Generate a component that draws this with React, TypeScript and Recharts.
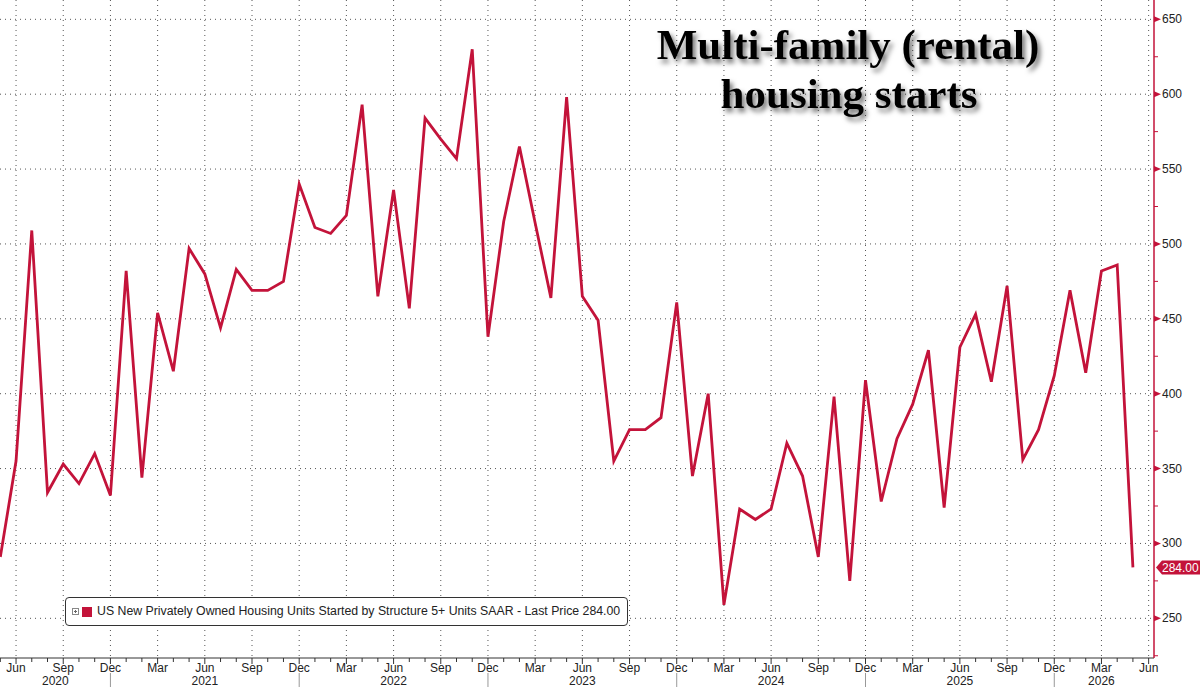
import React from 'react';
import { LineChart, Line, XAxis, YAxis, CartesianGrid, ReferenceLine } from 'recharts';

// Monthly series, May 2020 .. May 2026 (thousands of units, SAAR)
const START_MONTH = 4; // May (0-based)
const MONTH_NAMES = ['Jan', 'Feb', 'Mar', 'Apr', 'May', 'Jun', 'Jul', 'Aug', 'Sep', 'Oct', 'Nov', 'Dec'];

const housingStarts = [
  291, 355, 509, 334, 353, 340, 360, 332,
  482, 344, 454, 415, 497, 480, 444, 483, 469, 469, 475, 540,
  511, 507, 519, 593, 465, 536, 457, 584, 570, 557, 630, 438,
  515, 565, 514, 464, 598, 465, 449, 355, 376, 376, 384, 461,
  345, 400, 259, 323, 316, 323, 367, 345, 291, 398, 275, 409,
  328, 370, 393, 429, 324, 431, 453, 408, 472, 356, 376, 412,
  469, 414, 482, 486, 284,
];

const yTicks = [225, 250, 275, 300, 325, 350, 375, 400, 425, 450, 475, 500, 525, 550, 575, 600, 625, 650];
const yGridValues = [250, 300, 350, 400, 450, 500, 550, 600, 650];
const labeledMonths = ['Mar', 'Jun', 'Sep', 'Dec'];
const yearLabels = ['2020', '2021', '2022', '2023', '2024', '2025', '2026'];
const yearPositions = [3.5, 13, 25, 37, 49, 61, 70];
const lastPrice = 284;
const seriesName = 'US New Privately Owned Housing Units Started by Structure 5+ Units SAAR - Last Price 284.00';

const LINE_COLOR = '#c3133a';
const FONT = '"Liberation Sans", Arial, sans-serif';

const data = housingStarts.map((value, idx) => ({ idx, value }));
const monthTicks = Array.from({ length: housingStarts.length + 1 }, (_, i) => i);
const monthName = (i: number) => MONTH_NAMES[(START_MONTH + i) % 12];
const quarterTicks = monthTicks.filter((i) => labeledMonths.includes(monthName(i)));
const xTicks = [...monthTicks, ...yearPositions.filter((p) => !Number.isInteger(p))];

const MonthTick = (props: any) => {
  const { x, y, payload } = props;
  const v = payload.value as number;
  const yi = yearPositions.indexOf(v);
  const out: React.ReactNode[] = [];
  if (Number.isInteger(v)) {
    const name = monthName(v);
    const major = labeledMonths.includes(name);
    out.push(<line key="t" x1={x} x2={x} y1={y} y2={y + (major ? 6 : 4)} stroke="#333" strokeWidth={1} />);
    if (major) {
      out.push(
        <text key="m" x={x} y={y + 14} textAnchor="middle" fontSize={12} fill="#222" fontFamily={FONT}>
          {name}
        </text>
      );
    }
    if (name === 'Dec') {
      out.push(<line key="s" x1={x} x2={x} y1={y + 15} y2={y + 30} stroke="#999" strokeWidth={1} />);
    }
  }
  if (yi >= 0) {
    out.push(
      <text key="y" x={x} y={y + 27} textAnchor="middle" fontSize={12} fill="#222" fontFamily={FONT}>
        {yearLabels[yi]}
      </text>
    );
  }
  return <g>{out}</g>;
};

const ValueTick = (props: any) => {
  const { x, y, payload } = props;
  const v = payload.value as number;
  if (v % 50 !== 0) {
    return <line x1={x} x2={x + 4} y1={y} y2={y} stroke={LINE_COLOR} strokeWidth={1} />;
  }
  return (
    <g>
      <polygon points={`${x},${y - 3} ${x + 7},${y} ${x},${y + 3}`} fill={LINE_COLOR} />
      <text x={x + 8} y={y + 4} fontSize={12} fill="#222" fontFamily={FONT}>
        {v}
      </text>
    </g>
  );
};

const PriceTag = (props: any) => {
  const { viewBox } = props;
  if (!viewBox) return null;
  const right = viewBox.x + viewBox.width;
  const cy = viewBox.y;
  return (
    <g>
      <polygon
        points={`${right + 2},${cy} ${right + 8},${cy - 7} 1200,${cy - 7} 1200,${cy + 7} ${right + 8},${cy + 7}`}
        fill={LINE_COLOR}
      />
      <text x={right + 8} y={cy + 4.5} fontSize={12} fill="#fff" fontFamily={FONT}>
        {lastPrice.toFixed(2)}
      </text>
    </g>
  );
};

export default function App() {
  return (
    <div style={{ position: 'absolute', left: 0, top: 0, width: 1200, height: 687, background: '#fff', overflow: 'hidden' }}>
      <LineChart width={1200} height={687} data={data} margin={{ top: 0, right: 0, bottom: 0, left: 0 }}>
        <CartesianGrid
          stroke="#555"
          strokeDasharray="1 4"
          horizontalValues={yGridValues}
          verticalValues={quarterTicks}
        />
        <XAxis
          dataKey="idx"
          type="number"
          domain={[-0.02, 73.34]}
          allowDataOverflow
          ticks={xTicks}
          interval={0}
          height={29}
          tickSize={0}
          tickMargin={0}
          tickLine={false}
          axisLine={{ stroke: '#333', strokeWidth: 1 }}
          tick={<MonthTick />}
        />
        <YAxis
          orientation="right"
          type="number"
          domain={[223.5, 662.9]}
          allowDataOverflow
          ticks={yTicks}
          interval={0}
          width={46}
          tickSize={0}
          tickMargin={0}
          tickLine={false}
          axisLine={{ stroke: LINE_COLOR, strokeWidth: 1.5 }}
          tick={<ValueTick />}
        />
        <ReferenceLine y={lastPrice} stroke="none" label={<PriceTag />} />
        <Line
          type="linear"
          dataKey="value"
          stroke={LINE_COLOR}
          strokeWidth={2.8}
          dot={false}
          activeDot={false}
          isAnimationActive={false}
        />
      </LineChart>

      <svg width={1200} height={687} style={{ position: 'absolute', left: 0, top: 0, pointerEvents: 'none' }}>
        <defs>
          <filter id="titleShadow" x="-10%" y="-30%" width="130%" height="180%">
            <feDropShadow dx="3" dy="4" stdDeviation="2.5" floodColor="#000" floodOpacity="0.55" />
          </filter>
        </defs>
        <g filter="url(#titleShadow)" fontFamily='"Liberation Serif", "Times New Roman", serif' fontWeight="bold" fontSize={43} fill="#000" textAnchor="middle">
          <text x={848} y={59}>Multi-family (rental)</text>
          <text x={849} y={108}>housing starts</text>
        </g>
      </svg>

      <div
        style={{
          position: 'absolute',
          left: 65,
          top: 597,
          width: 561,
          height: 27,
          border: '1px solid #333',
          borderRadius: 4,
          background: '#fff',
          fontFamily: FONT,
          fontSize: 12.3,
          color: '#222',
        }}
      >
        <svg width={8} height={8} style={{ position: 'absolute', left: 6, top: 10 }}>
          <rect x={0.5} y={0.5} width={6} height={6} fill="#fff" stroke="#888" strokeWidth={1} />
          <line x1={2} x2={5} y1={3.5} y2={3.5} stroke="#666" />
          <line x1={3.5} x2={3.5} y1={2} y2={5} stroke="#666" />
        </svg>
        <div style={{ position: 'absolute', left: 16, top: 9, width: 10, height: 10, background: LINE_COLOR }} />
        <div style={{ position: 'absolute', left: 31, top: 6, whiteSpace: 'nowrap', lineHeight: '15px' }}>{seriesName}</div>
      </div>
    </div>
  );
}
